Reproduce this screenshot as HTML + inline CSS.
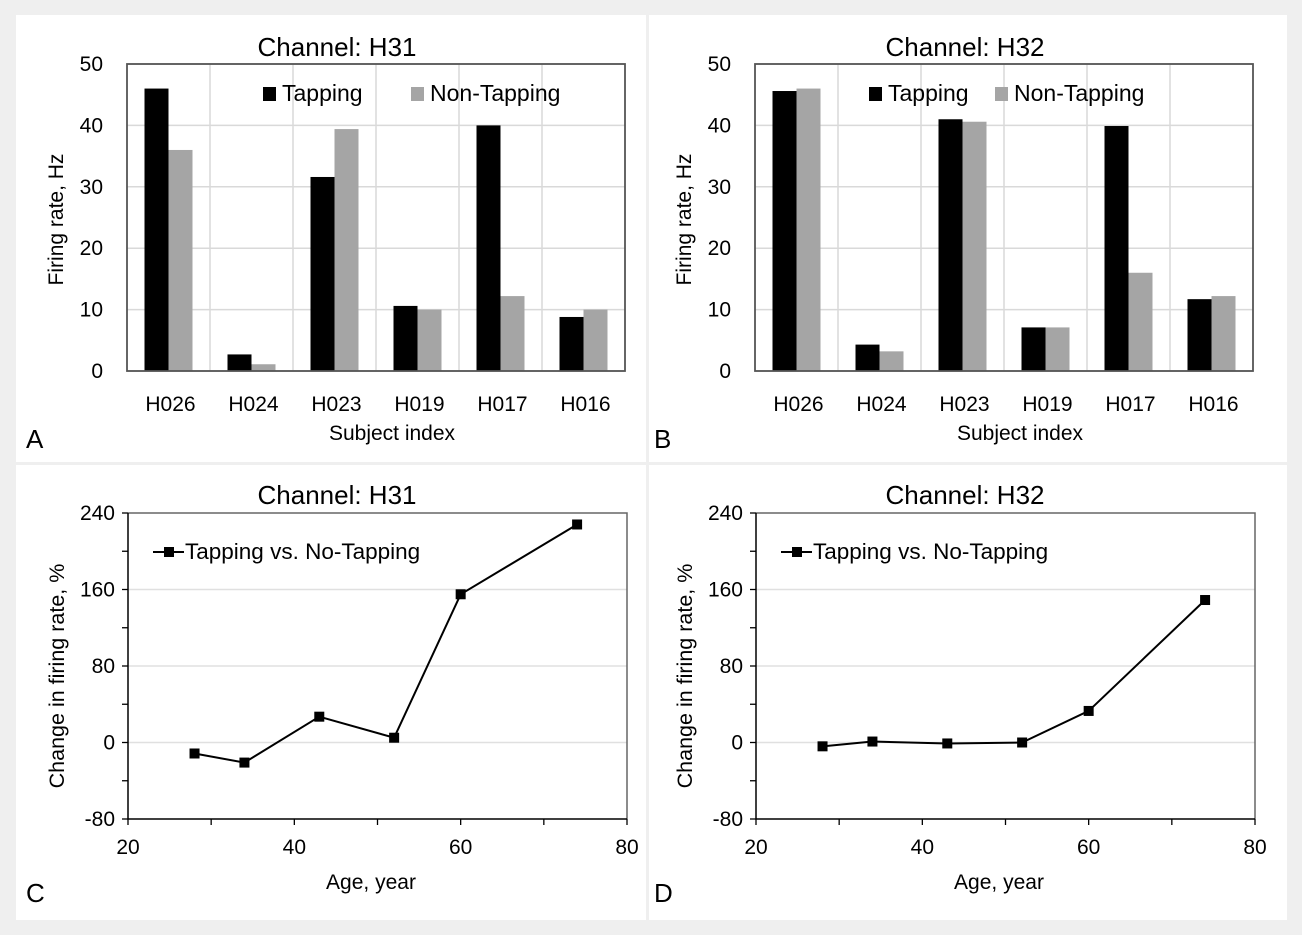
<!DOCTYPE html>
<html><head><meta charset="utf-8"><style>
body{margin:0;background:#efefef;font-family:"Liberation Sans",sans-serif}
svg{display:block}
</style></head><body>
<svg id="s" width="1302" height="935" font-family="Liberation Sans, sans-serif">
<rect x="0" y="0" width="1302" height="935" fill="#efefef"/>
<rect x="16" y="15" width="630" height="447" fill="#fff"/>
<rect x="649" y="15" width="638" height="447" fill="#fff"/>
<rect x="16" y="465" width="630" height="455" fill="#fff"/>
<rect x="649" y="465" width="638" height="455" fill="#fff"/>
</svg>
<script>
const subjects=["H026","H024","H023","H019","H017","H016"];
const tapA=[46,2.7,31.6,10.6,40,8.8];
const nonA=[36,1.1,39.4,10,12.2,10];
const tapB=[45.6,4.3,41,7.1,39.9,11.7];
const nonB=[46,3.2,40.6,7.1,16,12.2];
const barTicks=[0,10,20,30,40,50];
const ages=[28,34,43,52,60,74];
const changeC=[-11.5,-21,27,5,155,228];
const changeD=[-4,1,-1,0,33,149];
const lineYTicks=[-80,0,80,160,240];
const lineXTicks=[20,40,60,80];
const S=document.getElementById('s');
const NS='http://www.w3.org/2000/svg';
function el(t,a,txt){const e=document.createElementNS(NS,t);for(const k in a)e.setAttribute(k,a[k]);if(txt!==undefined)e.textContent=txt;S.appendChild(e);return e;}
function barChart(L,title,tap,non,letter,pfx){
  const T=64,B=371,W=498,R=L+W;
  const y=v=>B-(v/50)*(B-T);
  const cw=W/subjects.length;
  barTicks.forEach(t=>{const g=el('line',{x1:L,x2:R,y1:y(t),y2:y(t),stroke:'#d9d9d9','stroke-width':1.5});
    
    const l=el('text',{x:L-24,y:y(t)+7,'font-size':21,'text-anchor':'end'},t);
    });
  for(let i=1;i<subjects.length;i++){const g=el('line',{x1:L+i*cw,x2:L+i*cw,y1:T,y2:B,stroke:'#d9d9d9','stroke-width':1.5});
    }
  subjects.forEach((s,i)=>{const cx=L+(i+0.5)*cw;
    const b1=el('rect',{x:cx-24,y:y(tap[i]),width:24,height:B-y(tap[i]),fill:'#000'});
    
    const b2=el('rect',{x:cx,y:y(non[i]),width:24,height:B-y(non[i]),fill:'#a5a5a5'});
    
    const l=el('text',{x:cx+2,y:B+40,'font-size':21,'text-anchor':'middle'},s);
    });
  const f=el('rect',{x:L,y:T,width:W,height:B-T,fill:'none',stroke:'#555','stroke-width':1.8});
  
  const tt=el('text',{x:L+210,y:56,'font-size':26,'text-anchor':'middle'},title);
  
  const lx=pfx==='a'?L+136:L+114, gx=pfx==='a'?L+284:L+240;
  const s1=el('rect',{x:lx,y:87,width:13,height:14,fill:'#000'});
  const t1=el('text',{x:lx+19,y:101,'font-size':23},'Tapping');
  const s2=el('rect',{x:gx,y:87,width:13,height:14,fill:'#a5a5a5'});
  const t2=el('text',{x:gx+19,y:101,'font-size':23},'Non-Tapping');
  const yt=el('text',{transform:`translate(${L-64},${(T+B)/2+2}) rotate(-90)`,'font-size':21,'text-anchor':'middle'},'Firing rate, Hz');
  
  const xt=el('text',{x:L+265,y:440,'font-size':21,'text-anchor':'middle'},'Subject index');
  
  const pl=el('text',{x:L-101,y:448,'font-size':26},letter);
  
}
function lineChart(L,title,vals,letter,pfx){
  const T=513,B=819,W=499,R=L+W;
  const y=v=>B-((v+80)/320)*(B-T);
  const x=v=>L+((v-20)/60)*W;
  [0,80,160].forEach(t=>{const g=el('line',{x1:L,x2:R,y1:y(t),y2:y(t),stroke:'#e0e0e0','stroke-width':1.5});
    });
  for(let t=-80;t<=240;t+=40){const k=el('line',{x1:L-6,x2:L,y1:y(t),y2:y(t),stroke:'#000','stroke-width':1.3});
    }
  for(let t=20;t<=80;t+=10){const k=el('line',{x1:x(t),x2:x(t),y1:B,y2:B+6,stroke:'#000','stroke-width':1.3});
    }
  lineYTicks.forEach(t=>{const l=el('text',{x:L-13,y:y(t)+7,'font-size':21,'text-anchor':'end'},t);
    });
  lineXTicks.forEach(t=>{const l=el('text',{x:x(t),y:B+35,'font-size':21,'text-anchor':'middle'},t);
    });
  const rb=el('polyline',{points:`${L},${T} ${R},${T} ${R},${B}`,fill:'none',stroke:'#666','stroke-width':1.5});
  
  const ax=el('polyline',{points:`${L},${T} ${L},${B} ${R},${B}`,fill:'none',stroke:'#000','stroke-width':1.5});
  
  const pts=ages.map((a,i)=>x(a)+','+y(vals[i])).join(' ');
  const ln=el('polyline',{points:pts,fill:'none',stroke:'#000','stroke-width':2});
  
  ages.forEach((a,i)=>{const m=el('rect',{x:x(a)-5,y:y(vals[i])-5,width:10,height:10,fill:'#000'});
    });
  const lg=el('line',{x1:L+25,x2:L+56,y1:552,y2:552,stroke:'#000','stroke-width':2});
  
  const lm=el('rect',{x:L+36,y:547,width:10,height:10,fill:'#000'});
  
  const lt=el('text',{x:L+57,y:559,'font-size':22.5},'Tapping vs. No-Tapping');
  
  const tt=el('text',{x:L+209,y:504,'font-size':26,'text-anchor':'middle'},title);
  
  const yt=el('text',{transform:`translate(${L-64},${(T+B)/2+10}) rotate(-90)`,'font-size':21.5,'text-anchor':'middle'},'Change in firing rate, %');
  
  const xt=el('text',{x:L+243,y:889,'font-size':21,'text-anchor':'middle'},'Age, year');
  
  const pl=el('text',{x:L-102,y:902,'font-size':26},letter);
  
}
barChart(127,'Channel: H31',tapA,nonA,'A','a');
barChart(755,'Channel: H32',tapB,nonB,'B','b');
lineChart(128,'Channel: H31',changeC,'C','c');
lineChart(756,'Channel: H32',changeD,'D','d');
</script>
</body></html>
